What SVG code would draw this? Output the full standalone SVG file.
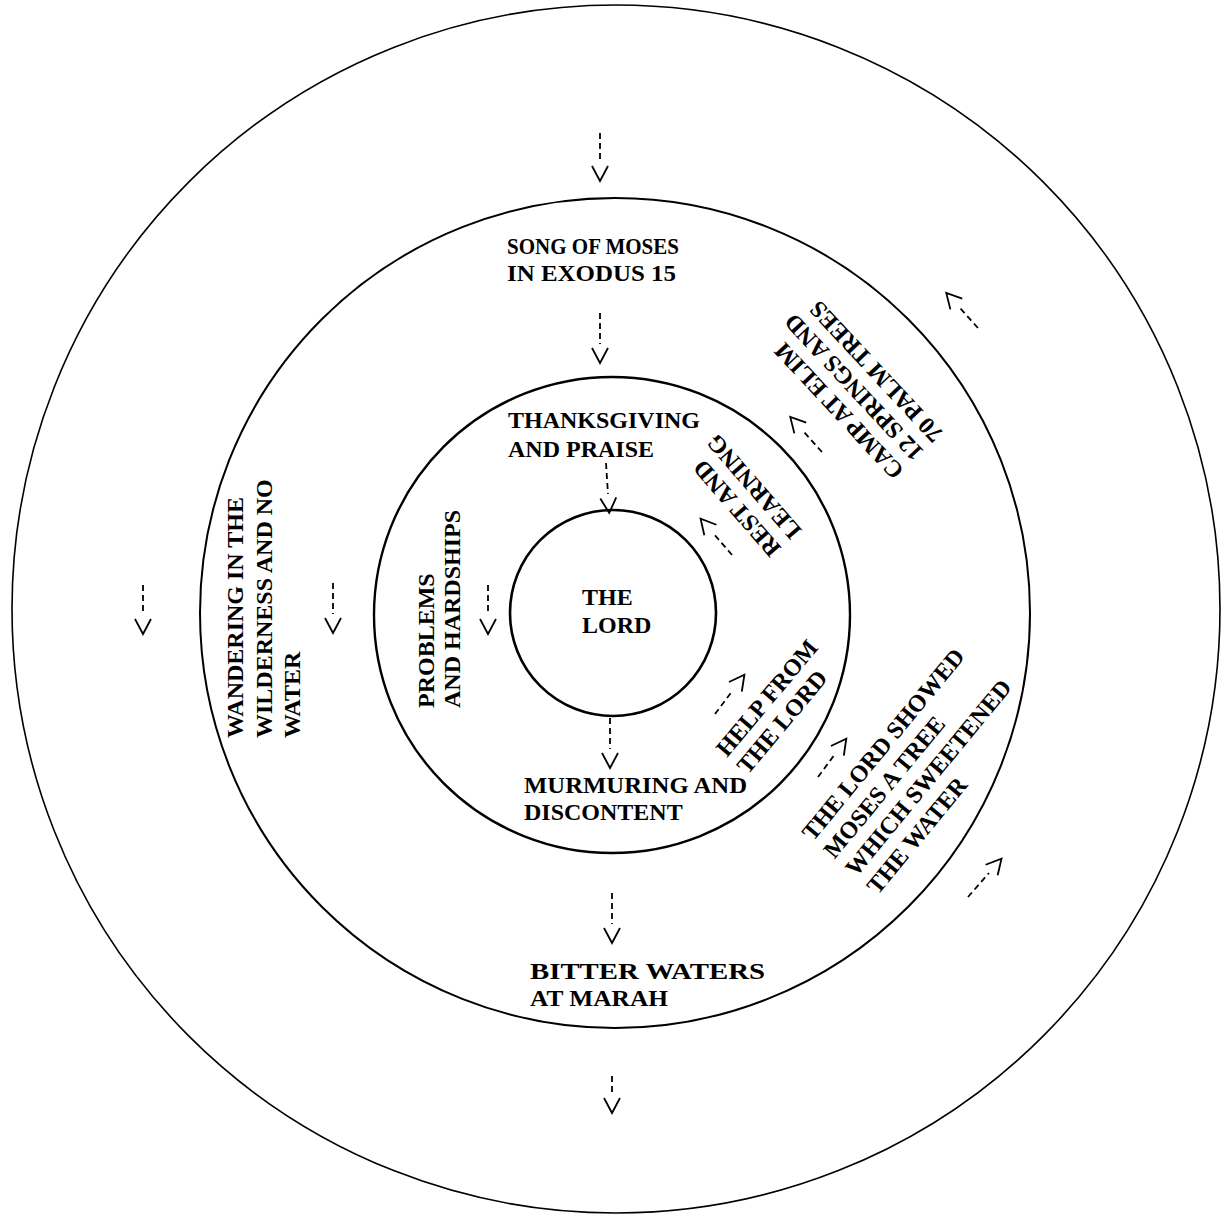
<svg xmlns="http://www.w3.org/2000/svg" width="1225" height="1218" viewBox="0 0 1225 1218">
<style>
.ring{fill:none;stroke:#000}
.t{font-family:"Liberation Serif","Times New Roman",serif;font-weight:bold;font-size:24px;fill:#000}
.c{fill:none;stroke:#000;stroke-width:1.8;stroke-dasharray:6 4}
</style>
<defs>
<marker id="v" markerUnits="userSpaceOnUse" orient="auto" refX="0" refY="0" markerWidth="30" markerHeight="30" overflow="visible">
<path d="M4,-8 L19,0 L4,8" fill="none" stroke="#000" stroke-width="1.8"/>
</marker>
</defs>
<rect width="1225" height="1218" fill="#fff"/>
<g id="rings">
<circle id="outer" class="ring" cx="616" cy="609" r="604" stroke-width="1.6"/>
<circle id="middle" class="ring" cx="615" cy="613" r="415" stroke-width="2"/>
<circle id="inner" class="ring" cx="612" cy="615" r="238" stroke-width="2.4"/>
<circle id="core" class="ring" cx="613" cy="613" r="103" stroke-width="2.6"/>
</g>
<g id="connectors">
<line class="c" x1="600" y1="133" x2="600" y2="162" marker-end="url(#v)"/>
<line class="c" x1="600" y1="313" x2="600" y2="344" marker-end="url(#v)"/>
<line class="c" x1="606" y1="463" x2="608" y2="494" marker-end="url(#v)"/>
<line class="c" x1="610" y1="718" x2="610" y2="749" marker-end="url(#v)"/>
<line class="c" x1="612" y1="893" x2="612" y2="924" marker-end="url(#v)"/>
<line class="c" x1="612" y1="1076" x2="612" y2="1094" marker-end="url(#v)"/>
<line class="c" x1="143" y1="585" x2="143" y2="615" marker-end="url(#v)"/>
<line class="c" x1="333" y1="583" x2="333" y2="614" marker-end="url(#v)"/>
<line class="c" x1="488" y1="585" x2="488" y2="615" marker-end="url(#v)"/>
<line class="c" x1="978" y1="328" x2="959" y2="307" marker-end="url(#v)"/>
<line class="c" x1="822" y1="452" x2="803" y2="431" marker-end="url(#v)"/>
<line class="c" x1="732" y1="555" x2="713" y2="533" marker-end="url(#v)"/>
<line class="c" x1="715" y1="714" x2="733" y2="690" marker-end="url(#v)"/>
<line class="c" x1="818" y1="777" x2="835" y2="754" marker-end="url(#v)"/>
<line class="c" x1="968" y1="897" x2="989" y2="873" marker-end="url(#v)"/>
</g>
<g id="song"><text class="t" x="507" y="254" textLength="172" lengthAdjust="spacingAndGlyphs">SONG OF MOSES</text><text class="t" x="507" y="281" textLength="169" lengthAdjust="spacingAndGlyphs">IN EXODUS 15</text></g>
<g id="thanks"><text class="t" x="508" y="428">THANKSGIVING</text><text class="t" x="508" y="457">AND PRAISE</text></g>
<g id="lord"><text class="t" x="582" y="605">THE</text><text class="t" x="582" y="633">LORD</text></g>
<g id="murmur"><text class="t" x="524" y="793" textLength="223" lengthAdjust="spacingAndGlyphs">MURMURING AND</text><text class="t" x="524" y="820">DISCONTENT</text></g>
<g id="bitter"><text class="t" x="530" y="979" textLength="235" lengthAdjust="spacingAndGlyphs">BITTER WATERS</text><text class="t" x="530" y="1006" textLength="138" lengthAdjust="spacingAndGlyphs">AT MARAH</text></g>
<g id="wander" transform="translate(243,738) rotate(-90)"><text class="t" x="0" y="0">WANDERING IN THE</text><text class="t" x="0" y="29">WILDERNESS AND NO</text><text class="t" x="0" y="57">WATER</text></g>
<g id="problems" transform="translate(434,708) rotate(-90)"><text class="t" x="0" y="0">PROBLEMS</text><text class="t" x="0" y="26">AND HARDSHIPS</text></g>
<g id="rest" transform="translate(782,548) rotate(229)"><text class="t" x="0" y="0">REST AND</text><text class="t" x="0" y="27">LEARNING</text></g>
<g id="camp" transform="translate(905,470) rotate(227)"><text class="t" x="0" y="0">CAMP AT ELIM</text><text class="t" x="0" y="27">12 SPRINGS AND</text><text class="t" x="0" y="54">70 PALM TREES</text></g>
<g id="help" transform="translate(727,758) rotate(-50)"><text class="t" x="0" y="0">HELP FROM</text><text class="t" x="0" y="27">THE LORD</text></g>
<g id="showed" transform="translate(813,842) rotate(-50.5)"><text class="t" x="0" y="0">THE LORD SHOWED</text><text class="t" x="0" y="28">MOSES A TREE</text><text class="t" x="0" y="56">WHICH SWEETENED</text><text class="t" x="0" y="84">THE WATER</text></g>
</svg>
